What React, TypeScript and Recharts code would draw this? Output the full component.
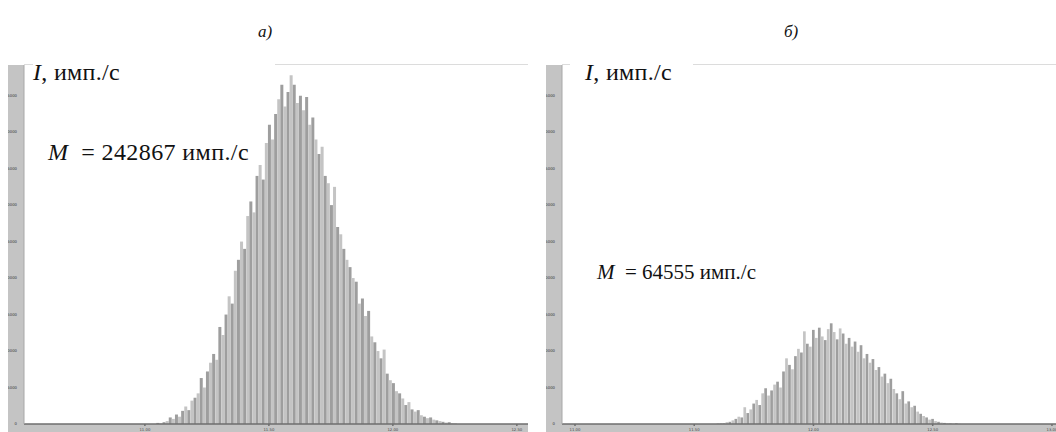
import { BarChart, Bar, XAxis, YAxis, CartesianGrid, Cell } from 'recharts';

// counts per bin (imp./s), bin step 0.025
const leftCounts = [
  150, 80, 250, 400, 900, 700, 1300, 1000, 1800, 2400,
  1900, 3200, 3600, 4200, 6300, 5000, 7200, 8400, 9600, 8800,
  13300, 12200, 15000, 17500, 16500, 21000, 22500, 25000, 24000, 28500,
  30500, 29000, 34000, 35500, 33500, 38500, 41000, 39000, 42500, 44500,
  46500, 43500, 45500, 47800, 46500, 44000, 45000, 43000, 44800, 41000,
  42000, 39000, 37000, 38000, 34000, 33000, 30000, 32500, 27000, 26000,
  24000, 22500, 21500, 20000, 19500, 16500, 17200, 14800, 15500, 12000,
  11200, 10000, 9000, 10200, 6900, 6000, 5600, 4500, 4200, 3500,
  2600, 3000, 2000, 1700, 1900, 1200, 1000, 800, 900, 600,
  500, 400, 300, 200, 250, 100, 50,
];
const leftStart = 1.105;

const rightCounts = [
  50, 100, 80, 250, 300, 500, 700, 1000, 900, 2300,
  1500, 2000, 2800, 3300, 2600, 4200, 4900, 3900, 4600, 5400,
  5800, 5000, 7200, 9000, 8100, 7500, 9300, 10300, 9800, 12700,
  11000, 10600, 12900, 11800, 13200, 12000, 11500, 13000, 13800, 12600,
  11600, 13100, 12400, 11000, 11800, 10600, 11300, 9900, 10800, 9000,
  9600, 8400, 8900, 7400, 7800, 6500, 6900, 5600, 6200, 4800,
  4200, 3400, 4500, 2800, 3100, 2300, 2500, 1700, 1400, 1100,
  900, 600, 700, 400, 300, 200, 150, 100, 80, 50,
  100, 30,
];
const rightStart = 2.2;

const binStep = 0.025;
const yTicks = [0, 5000, 10000, 15000, 20000, 25000, 30000, 35000, 40000, 45000];
const leftXTicks = [1, 2, 3, 4];
const leftXLabels = ['11.00', '11.50', '12.00', '12.50'];
const rightXTicks = [1, 2, 3, 4, 5];
const rightXLabels = ['11.00', '11.50', '12.00', '12.50', '13.00'];

const serif = 'Liberation Serif';

interface PanelProps {
  counts: number[];
  start: number;
  domain: [number, number];
  ticks: number[];
  labels: string[];
  left: number;
  width: number;
}

function Panel({ counts, start, domain, ticks, labels, left, width }: PanelProps) {
  const rows = counts.map((v, i) => ({ x: start + i * binStep, v }));
  return (
    <div style={{ position: 'absolute', left, top: 65, width, height: 367, background: '#c4c4c4' }}>
      <BarChart width={width} height={367} data={rows} margin={{ top: 0, right: 0, bottom: 0, left: 0 }}>
        <CartesianGrid fill="#fff" horizontal={false} vertical={false} />
        <XAxis
          type="number"
          dataKey="x"
          domain={domain}
          allowDataOverflow
          ticks={ticks}
          interval={0}
          height={8}
          tickSize={2}
          tickFormatter={(t: number) => labels[ticks.indexOf(t)] ?? ''}
          tick={{ fontSize: 3.8, fill: '#444', fontFamily: 'DejaVu Sans' }}
          stroke="#6e6e6e"
          strokeWidth={1.5}
        />
        <YAxis
          width={16}
          domain={[0, 49200]}
          allowDataOverflow
          ticks={yTicks}
          interval={0}
          tickLine={false}
          tickMargin={1}
          tick={{ fontSize: 3.8, fill: '#333', fontFamily: 'DejaVu Sans' }}
          stroke="#a8a8a8"
        />
        <Bar dataKey="v" barSize={3} isAnimationActive={false}>
          {rows.map((_, i) => (
            <Cell key={i} fill={i % 2 === 0 ? '#9e9e9e' : '#c4c4c4'} />
          ))}
        </Bar>
      </BarChart>
    </div>
  );
}

const txt = (left: number, top: number, size: number) => ({
  position: 'absolute' as const,
  left,
  top,
  fontFamily: serif,
  fontSize: size,
  color: '#111',
  whiteSpace: 'nowrap' as const,
  lineHeight: 1,
});

export default function App() {
  return (
    <div style={{ position: 'absolute', left: 0, top: 0, width: 1056, height: 432, background: '#fff', overflow: 'hidden' }}>
      <div style={{ ...txt(258, 23, 17), fontStyle: 'italic' }}>а)</div>
      <div style={{ ...txt(784, 23, 17), fontStyle: 'italic' }}>б)</div>

      <Panel counts={leftCounts} start={leftStart} domain={[0.025, 4.09]} ticks={leftXTicks} labels={leftXLabels} left={8} width={520} />
      <Panel counts={rightCounts} start={rightStart} domain={[0.891, 5.034]} ticks={rightXTicks} labels={rightXLabels} left={546} width={510} />

      {/* top frame lines, broken where the label boxes sit */}
      <div style={{ position: 'absolute', left: 24, top: 64, width: 9, height: 1, background: '#dcdcdc' }} />
      <div style={{ position: 'absolute', left: 275, top: 64, width: 253, height: 1, background: '#dcdcdc' }} />
      <div style={{ position: 'absolute', left: 562, top: 64, width: 8, height: 1, background: '#dcdcdc' }} />
      <div style={{ position: 'absolute', left: 693, top: 64, width: 363, height: 1, background: '#dcdcdc' }} />

      <div style={{ ...txt(33, 60, 24), letterSpacing: 0.3 }}>
        <i>I</i>, имп./с
      </div>
      <div style={{ ...txt(585, 60, 24), letterSpacing: 0.3 }}>
        <i>I</i>, имп./с
      </div>

      <div style={{ ...txt(48, 140, 24), letterSpacing: 0.4 }}>
        <i>M</i>&nbsp; = 242867 имп./с
      </div>
      <div style={txt(597, 262, 21)}>
        <i>M</i>&nbsp; = 64555 имп./с
      </div>
    </div>
  );
}
